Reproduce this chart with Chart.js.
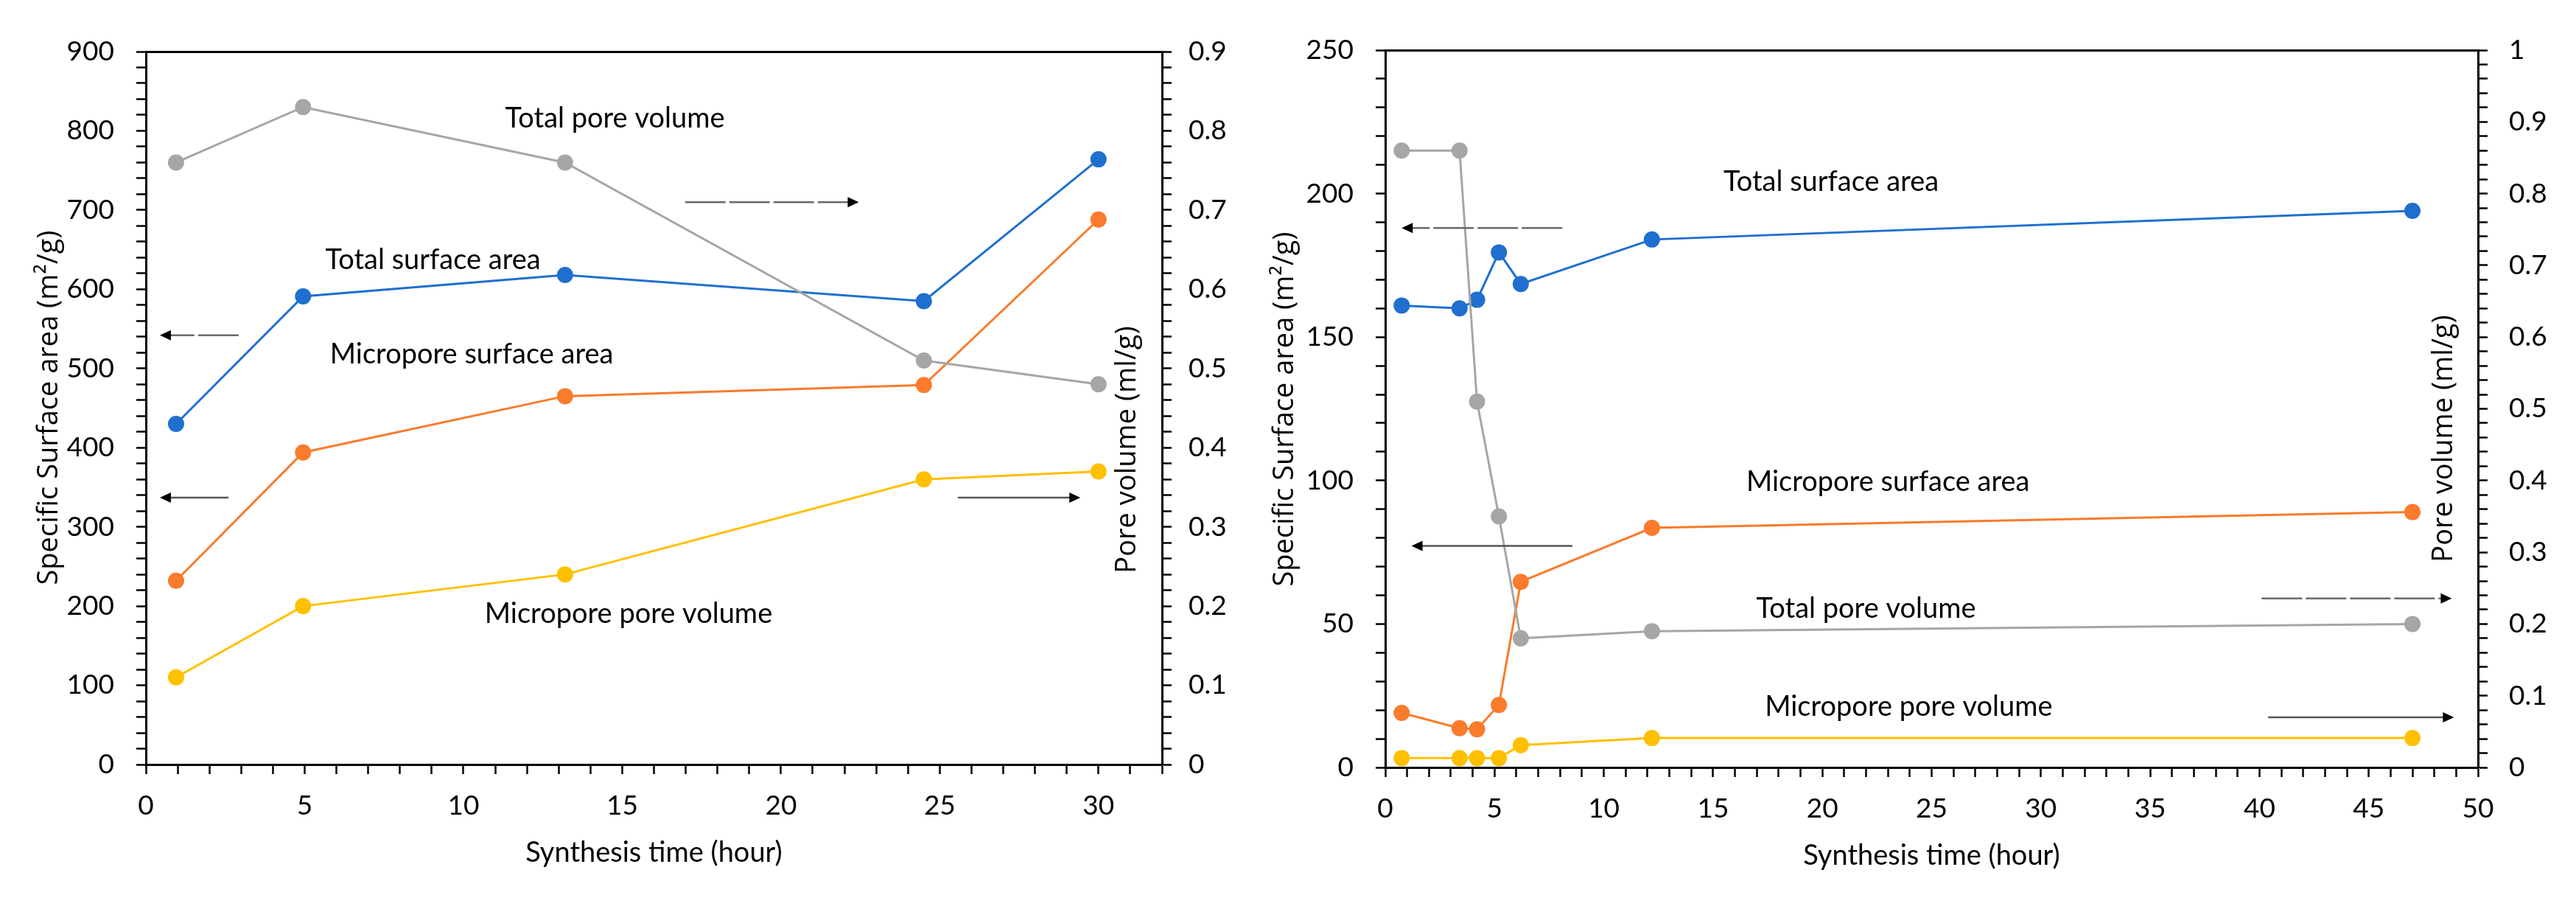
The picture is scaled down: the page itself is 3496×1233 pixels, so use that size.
<!DOCTYPE html>
<html>
<head>
<meta charset="utf-8">
<script src="https://cdn.jsdelivr.net/npm/chart.js@4.4.1/dist/chart.umd.min.js"></script>
<style>
  html, body { margin: 0; padding: 0; background: #fff; }
  #wrap { position: relative; width: 3496px; height: 1233px; }
  canvas { position: absolute; top: 0; }
</style>
</head>
<body>
<div id="wrap">
  <canvas id="leftChart" width="1700" height="1233" style="left:0"></canvas>
  <canvas id="rightChart" width="1796" height="1233" style="left:1700px"></canvas>
</div>
<script>
// ---- left panel data ----
var leftTime       = [0.95, 4.95, 13.2, 24.5, 30];
var leftTotalArea  = [430, 591, 618, 585, 764];
var leftMicroArea  = [232, 394, 465, 479, 688];
var leftTotalVol   = [0.76, 0.83, 0.76, 0.51, 0.48];
var leftMicroVol   = [0.11, 0.20, 0.24, 0.36, 0.37];

// ---- right panel data ----
var rightTime      = [0.75, 3.4, 4.2, 5.2, 6.2, 12.2, 47];
var rightTotalArea = [161, 160, 163, 179.5, 168.5, 184, 194];
var rightMicroArea = [19, 13.7, 13.3, 21.8, 64.7, 83.5, 89];
var rightTotalVol  = [0.86, 0.86, 0.51, 0.35, 0.18, 0.19, 0.20];
var rightMicroVol  = [0.013, 0.013, 0.013, 0.013, 0.031, 0.041, 0.041];

var xTitle = 'Synthesis time (hour)';
var areaTitle = 'Specific Surface area (m\u00b2/g)';
var volTitle = 'Pore volume (ml/g)';

var BLUE = '#1f6fce', ORANGE = '#f97b2b', GREY = '#a6a6a6', GOLD = '#ffc000';
var TICK_FONT = { family: 'Lato', size: 37 };
var NOTE_FONT = '38px Lato';
var TITLE_FONT = '38px "Open Sans"';

function majorLabel(step, decimals) {
  return function(value) {
    var r = value / step;
    if (Math.abs(r - Math.round(r)) > 1e-6) return '';
    return decimals ? String(Math.round(value * 10) / 10) : String(Math.round(value));
  };
}

function pairs(xs, ys) {
  return xs.map(function(x, i) { return { x: x, y: ys[i] }; });
}

function series(label, xs, ys, color, axis) {
  return {
    label: label,
    data: pairs(xs, ys),
    yAxisID: axis,
    borderColor: color,
    backgroundColor: color,
    pointBackgroundColor: color,
    pointBorderColor: color,
    borderWidth: 3,
    pointRadius: 11,
    pointBorderWidth: 0,
    tension: 0,
    fill: false
  };
}

// text notes, arrows and the rotated axis titles
var notesPlugin = {
  id: 'notes',
  afterDatasetsDraw: function(chart, args, opts) {
    var ctx = chart.ctx, sx = chart.scales.x, sy = chart.scales.y;
    ctx.save();
    (opts.arrows || []).forEach(function(a) {
      var x1 = sx.getPixelForValue(a.from), x2 = sx.getPixelForValue(a.to), y = sy.getPixelForValue(a.y);
      var dir = x2 > x1 ? 1 : -1;
      ctx.strokeStyle = a.dash ? '#6a6a6a' : '#555';
      ctx.lineWidth = 2.5;
      ctx.setLineDash(a.dash ? [55, 5] : []);
      ctx.beginPath();
      ctx.moveTo(x1, y);
      ctx.lineTo(x2 - dir * 12, y);
      ctx.stroke();
      ctx.setLineDash([]);
      ctx.fillStyle = '#000';
      ctx.beginPath();
      ctx.moveTo(x2, y);
      ctx.lineTo(x2 - dir * 15, y - 7);
      ctx.lineTo(x2 - dir * 15, y + 7);
      ctx.closePath();
      ctx.fill();
    });
    ctx.font = NOTE_FONT;
    ctx.fillStyle = '#000';
    ctx.textAlign = 'center';
    ctx.textBaseline = 'middle';
    (opts.texts || []).forEach(function(t) {
      ctx.fillText(t.text, sx.getPixelForValue(t.x), sy.getPixelForValue(t.y));
    });
    ctx.restore();
  },
  afterDraw: function(chart, args, opts) {
    var ctx = chart.ctx;
    ctx.save();
    ctx.font = TITLE_FONT;
    ctx.fillStyle = '#000';
    ctx.textAlign = 'center';
    ctx.textBaseline = 'middle';
    (opts.titles || []).forEach(function(t) {
      ctx.save();
      ctx.translate(t.x, t.y);
      ctx.rotate(-Math.PI / 2);
      ctx.fillText(t.text, 0, 0);
      ctx.restore();
    });
    ctx.restore();
  }
};

function axisGrid() {
  return { drawOnChartArea: false, drawTicks: true, tickLength: 13, tickColor: '#000', tickWidth: 2.5 };
}

function buildChart(id, box, xr, yr, y1r, datasets, notes) {
  return new Chart(document.getElementById(id).getContext('2d'), {
    type: 'line',
    data: { datasets: datasets },
    options: {
      responsive: false,
      animation: false,
      devicePixelRatio: 1,
      layout: { padding: 0 },
      plugins: {
        legend: { display: false },
        tooltip: { enabled: false },
        notes: notes
      },
      scales: {
        x: {
          type: 'linear', position: 'bottom', min: 0, max: xr.max,
          ticks: { stepSize: 1, autoSkip: false, maxRotation: 0, callback: majorLabel(5, false),
                   font: TICK_FONT, color: '#000', padding: 21 },
          grid: axisGrid(),
          border: { color: '#000', width: 3 },
          title: { display: true, text: xTitle, color: '#000', font: { family: 'Lato', size: 38 },
                   padding: { top: 0, bottom: box.titlePad } },
          afterFit: function(s) { s.height = box.bottom; }
        },
        xTop: {
          type: 'linear', position: 'top', min: 0, max: xr.max,
          ticks: { display: false },
          grid: { display: false },
          border: { color: '#000', width: 3 },
          afterFit: function(s) { s.height = box.top; }
        },
        y: {
          type: 'linear', position: 'left', min: 0, max: yr.max,
          ticks: { stepSize: yr.minor, autoSkip: false, callback: majorLabel(yr.major, false),
                   font: TICK_FONT, color: '#000', padding: 30 },
          grid: axisGrid(),
          border: { color: '#000', width: 3 },
          afterFit: function(s) { s.width = box.left; }
        },
        y1: {
          type: 'linear', position: 'right', min: 0, max: y1r.max,
          ticks: { stepSize: 0.02, autoSkip: false, callback: majorLabel(0.1, true),
                   font: TICK_FONT, color: '#000', padding: box.rightPad },
          grid: axisGrid(),
          border: { color: '#000', width: 3 },
          afterFit: function(s) { s.width = box.right; }
        }
      }
    },
    plugins: [notesPlugin]
  });
}

buildChart('leftChart',
  { left: 198, right: 123, top: 70, bottom: 196, titlePad: 53, rightPad: 23 },
  { max: 32 }, { max: 900, minor: 20, major: 100 }, { max: 0.9 },
  [
    series('Total pore volume', leftTime, leftTotalVol, GREY, 'y1'),
    series('Micropore pore volume', leftTime, leftMicroVol, GOLD, 'y1'),
    series('Micropore surface area', leftTime, leftMicroArea, ORANGE, 'y'),
    series('Total surface area', leftTime, leftTotalArea, BLUE, 'y')
  ],
  {
    texts: [
      { text: 'Total pore volume', x: 14.77, y: 816 },
      { text: 'Total surface area', x: 9.04, y: 637 },
      { text: 'Micropore surface area', x: 10.26, y: 518 },
      { text: 'Micropore pore volume', x: 15.2, y: 190 }
    ],
    arrows: [
      { from: 2.92, to: 0.44, y: 542, dash: true },
      { from: 2.6, to: 0.44, y: 337 },
      { from: 16.98, to: 22.45, y: 710, dash: true },
      { from: 25.57, to: 29.43, y: 337 }
    ],
    titles: [
      { text: areaTitle, x: 67, y: 553 },
      { text: volTitle, x: 1530, y: 610 }
    ]
  });

buildChart('rightChart',
  { left: 180, right: 133, top: 68, bottom: 192, titlePad: 49, rightPad: 29 },
  { max: 50 }, { max: 250, minor: 10, major: 50 }, { max: 1 },
  [
    series('Total pore volume', rightTime, rightTotalVol, GREY, 'y1'),
    series('Micropore pore volume', rightTime, rightMicroVol, GOLD, 'y1'),
    series('Micropore surface area', rightTime, rightMicroArea, ORANGE, 'y'),
    series('Total surface area', rightTime, rightTotalArea, BLUE, 'y')
  ],
  {
    texts: [
      { text: 'Total surface area', x: 20.4, y: 204 },
      { text: 'Micropore surface area', x: 23.0, y: 99.4 },
      { text: 'Total pore volume', x: 22.0, y: 55.4 },
      { text: 'Micropore pore volume', x: 23.95, y: 21.2 }
    ],
    arrows: [
      { from: 8.1, to: 0.75, y: 188, dash: true },
      { from: 8.56, to: 1.2, y: 77.2 },
      { from: 40.1, to: 48.8, y: 58.9, dash: true },
      { from: 40.4, to: 48.9, y: 17.5 }
    ],
    titles: [
      { text: areaTitle, x: 44, y: 555 },
      { text: volTitle, x: 1617, y: 595 }
    ]
  });
</script>
</body>
</html>
